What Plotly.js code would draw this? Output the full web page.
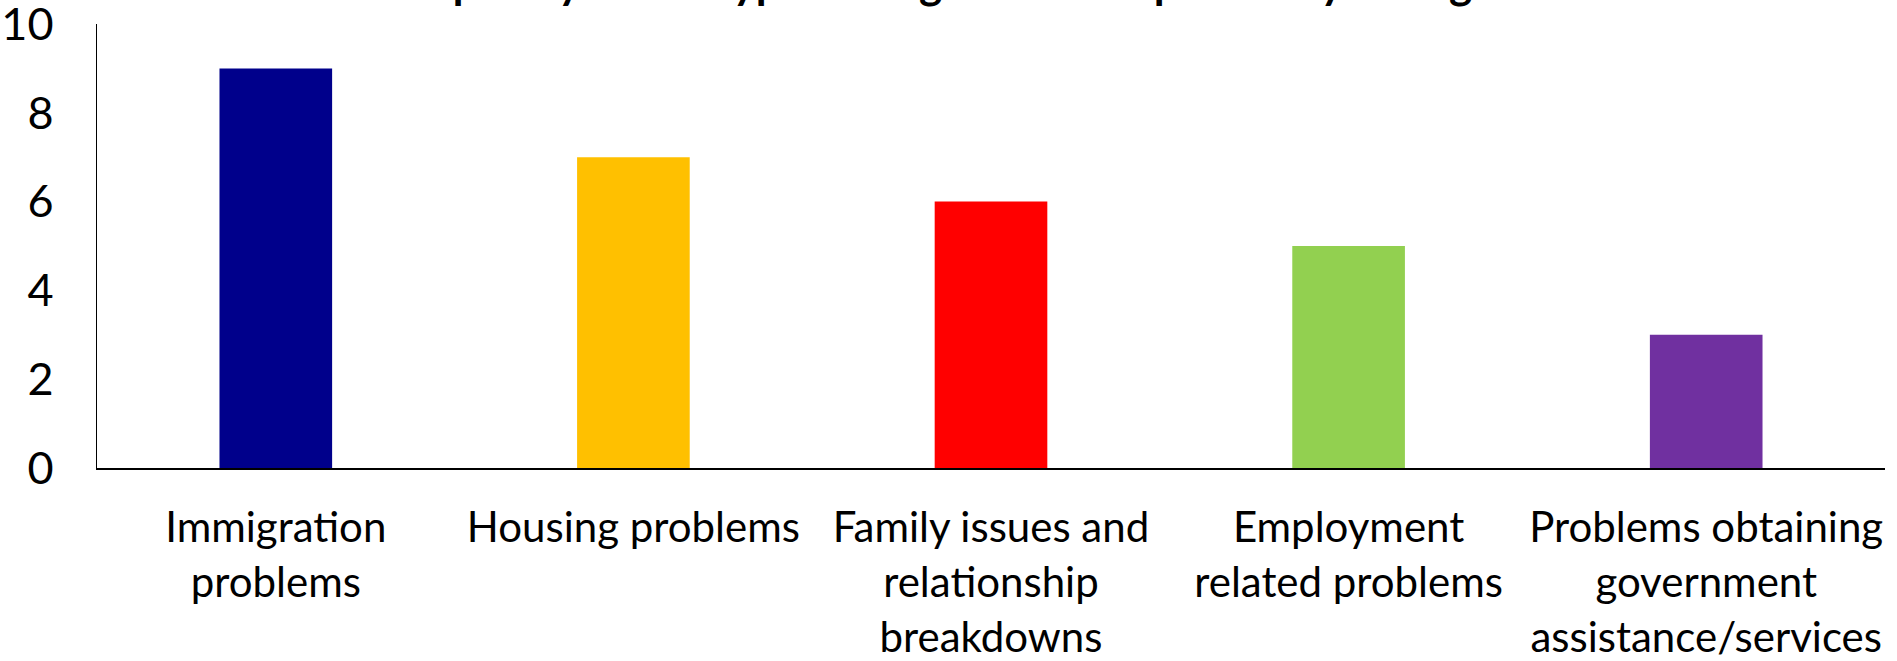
<!DOCTYPE html>
<html>
<head>
<meta charset="utf-8">
<script src="https://cdn.plot.ly/plotly-3.0.1.min.js"></script>
<style>
html,body{margin:0;padding:0;background:#fff;}
#chart{width:1897px;height:661px;}
</style>
</head>
<body>
<div id="chart"></div>
<script>
const titleText = "Frequency of the types of legal issues reported by immigrants";
const categories = ["Immigration problems", "Housing problems", "Family issues and relationship breakdowns", "Employment related problems", "Problems obtaining government assistance/services"];
const tickLabels = ["Immigration<br>problems", "Housing problems", "Family issues and<br>relationship<br>breakdowns", "Employment<br>related problems", "Problems obtaining<br>government<br>assistance/services"];
const values = [9, 7, 6, 5, 3];
const yTickVals = [0, 2, 4, 6, 8, 10];
const yTickText = ["0", "2", "4", "6", "8", "10"];
const barColors = ["#00008B", "#FFC000", "#FF0000", "#92D050", "#7030A0"];

const FONT = "Lato, 'Open Sans', sans-serif";

const trace = {
  type: "bar",
  x: categories,
  y: values,
  marker: {color: barColors, line: {width: 0}},
  hoverinfo: "x+y"
};

const layout = {
  width: 1897,
  height: 661,
  margin: {l: 97, r: 12, t: 24, b: 193, pad: 0},
  paper_bgcolor: "#ffffff",
  plot_bgcolor: "#ffffff",
  showlegend: false,
  bargap: 0.685,
  font: {family: FONT, color: "#000000", size: 42},
  xaxis: {
    type: "category",
    tickmode: "array",
    tickvals: categories,
    ticktext: tickLabels,
    showline: true,
    linecolor: "#000000",
    linewidth: 2,
    showgrid: false,
    zeroline: false,
    ticks: "outside",
    ticklen: 22,
    tickcolor: "rgba(0,0,0,0)",
    tickangle: 0,
    tickfont: {family: FONT, size: 42, color: "#000000"},
    fixedrange: true
  },
  yaxis: {
    range: [0, 10],
    tickmode: "array",
    tickvals: yTickVals,
    ticktext: yTickText,
    showline: true,
    linecolor: "#000000",
    linewidth: 1.5,
    showgrid: false,
    zeroline: false,
    ticks: "outside",
    ticklen: 33,
    tickcolor: "rgba(0,0,0,0)",
    ticklabeloverflow: "allow",
    tickfont: {family: FONT, size: 45, color: "#000000"},
    fixedrange: true
  },
  annotations: [{
    text: "<b>" + titleText + "</b>",
    xref: "paper", yref: "paper",
    x: 0.49, y: 1,
    xanchor: "center", yanchor: "bottom",
    yshift: 14,
    showarrow: false,
    font: {family: FONT, size: 44, color: "#000000"}
  }]
};

Plotly.newPlot("chart", [trace], layout, {displayModeBar: false, staticPlot: true});
</script>
</body>
</html>
